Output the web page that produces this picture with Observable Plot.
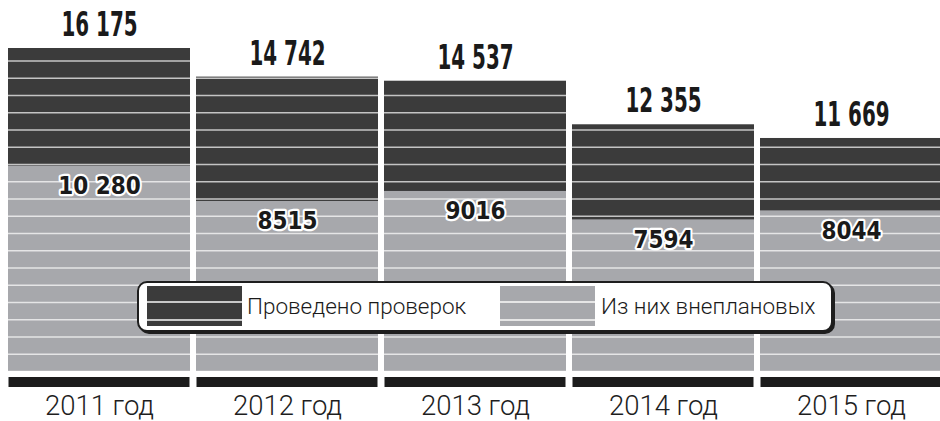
<!DOCTYPE html>
<html><head><meta charset="utf-8">
<script src="https://cdn.jsdelivr.net/npm/d3@7"></script>
<script src="https://cdn.jsdelivr.net/npm/@observablehq/plot@0.6"></script>
<style>
body{margin:0;background:#fff;}
#wrap{position:relative;width:940px;height:421px;overflow:hidden;}
#wrap svg{display:block;}
.legend{position:absolute;left:137px;top:281px;width:692px;height:47px;border:2px solid #1e1e1e;border-radius:10px;background:#fff;box-shadow:2px 2px 0 #1e1e1e;font-family:Roboto,sans-serif;font-weight:300;font-size:22.5px;color:#1a1a1a;}
.sw{position:absolute;top:3px;width:95px;height:40px;}
.sw.dark{left:8px;background:linear-gradient(to bottom,#3b3b3b 0 15px,#c8c8c8 15px 17px,#3b3b3b 17px 33px,#c8c8c8 33px 35px,#3b3b3b 35px);}
.sw.gray{left:361px;background:linear-gradient(to bottom,#a7a8ac 0 15px,#e6e6e6 15px 17px,#a7a8ac 17px 33px,#e6e6e6 33px 35px,#a7a8ac 35px);}
.lt{position:absolute;top:0;line-height:46px;white-space:nowrap;}
</style>
</head><body>
<div id="wrap"></div>
<script>
const years = ["2011", "2012", "2013", "2014", "2015"];
const yearLabels = ["2011 год", "2012 год", "2013 год", "2014 год", "2015 год"];
const total = [16175, 14742, 14537, 12355, 11669];
const unplanned = [10280, 8515, 9016, 7594, 8044];
const totalLabels = ["16 175", "14 742", "14 537", "12 355", "11 669"];
const unplannedLabels = ["10 280", "8515", "9016", "7594", "8044"];
const legendLabels = ["Проведено проверок", "Из них внеплановых"];

const rows = years.map((y, i) => ({
  year: y, total: total[i], unplanned: unplanned[i],
  tl: totalLabels[i], ul: unplannedLabels[i], yl: yearLabels[i]
}));

// decorative horizontal stripes across the bars
const stripes = d3.range(0, 17000, 864);

const chart = Plot.plot({
  width: 940,
  height: 421,
  marginTop: 48,
  marginBottom: 50,
  marginLeft: 0,
  marginRight: 0,
  x: {domain: years, range: [8, 943], paddingInner: 0.03, paddingOuter: 0, axis: null},
  y: {domain: [0, 16175], axis: null},
  marks: [
    Plot.barY(rows, {x: "year", y: "total", fill: "#3b3b3b"}),
    Plot.barY(rows, {x: "year", y: "unplanned", fill: "#a7a8ac"}),
    Plot.ruleY(stripes, {stroke: "#fff", strokeOpacity: 0.7, strokeWidth: 1.5}),
    Plot.barY(rows, {x: "year", y1: 0, y2: 0, insetTop: 6, insetBottom: -16, insetLeft: 0.5, insetRight: 0.5, fill: "#1c1c1c"}),
    Plot.text(rows, {x: "year", y: "total", text: "tl", dy: -23, lineAnchor: "middle",
      fontSize: 33, fontWeight: "bold", fontFamily: "'DejaVu Sans Condensed','DejaVu Sans',sans-serif", fill: "#1a1a1a"}),
    Plot.text(rows, {x: "year", y: "unplanned", text: "ul", dy: 20, lineAnchor: "middle",
      fontSize: 24, fontWeight: "bold", fontFamily: "'DejaVu Sans',sans-serif", fill: "#1a1a1a", stroke: "#fff", strokeWidth: 4.5}),
    Plot.text(rows, {x: "year", frameAnchor: "bottom", text: "yl", dy: 35, lineAnchor: "middle",
      fontSize: 27.5, fontWeight: 300, fontFamily: "Roboto,sans-serif", fill: "#1e1e1e"})
  ]
});

// horizontally condense the value labels (narrow display face in the original)
function squeeze(labels, k) {
  d3.select(chart).selectAll("text").each(function() {
    if (!labels.includes(this.textContent)) return;
    const t = this.getAttribute("transform");
    if (t) {
      this.setAttribute("transform", t + ` scale(${k},1)`);
    } else {
      const x = +this.getAttribute("x") || 0, y = +this.getAttribute("y") || 0;
      this.removeAttribute("x"); this.removeAttribute("y");
      this.setAttribute("transform", `translate(${x},${y}) scale(${k},1)`);
    }
  });
}
squeeze(totalLabels, 0.67);
squeeze(unplannedLabels, 0.9);

const wrap = document.getElementById("wrap");
wrap.appendChild(chart);

const legend = document.createElement("div");
legend.className = "legend";
legend.innerHTML =
  `<div class="sw dark"></div><span class="lt" style="left:108px">${legendLabels[0]}</span>` +
  `<div class="sw gray"></div><span class="lt" style="left:462px">${legendLabels[1]}</span>`;
wrap.appendChild(legend);
</script>
</body></html>
